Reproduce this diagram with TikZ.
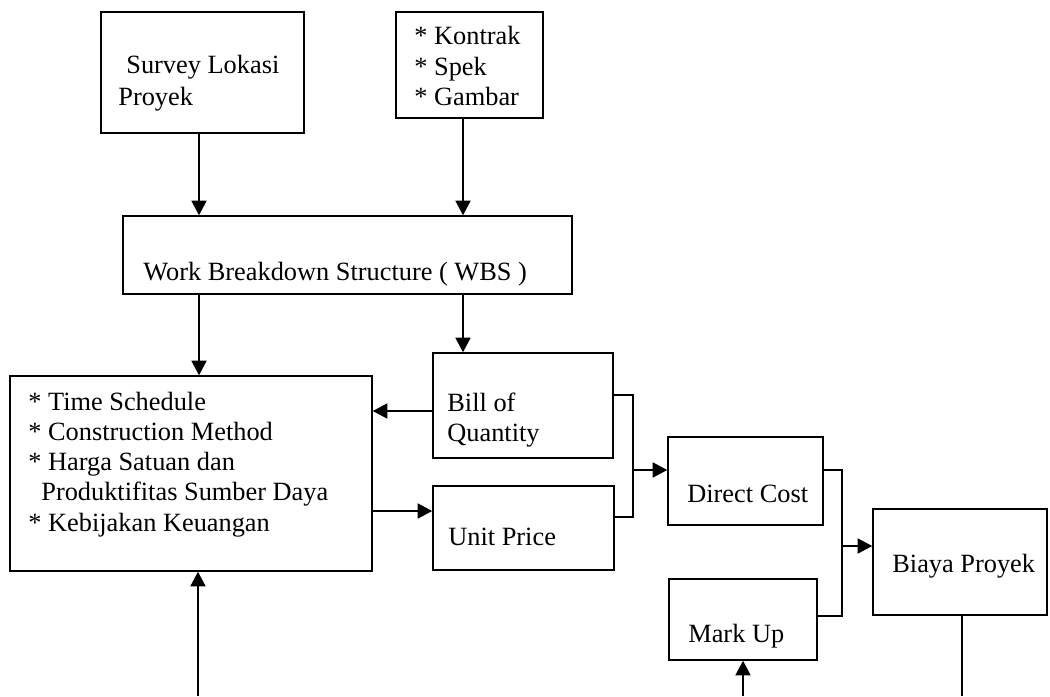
\documentclass[tikz,border=0pt]{standalone}
\usepackage{fontspec}
\setmainfont{Liberation Serif}
\usetikzlibrary{arrows.meta,calc}

\begin{document}
\begin{tikzpicture}[x=0.02cm,y=-0.02cm,
  box/.style={rectangle,draw=black,line width=0.9pt,inner sep=0pt},
  txt/.style={anchor=base west,inner sep=0pt,font=\fontsize{15pt}{17pt}\selectfont},
  arr/.style={-{Triangle[length=0.29cm,width=0.3cm]},line width=0.9pt},
  wire/.style={-,line width=0.9pt}]
\fill[white] (0,0) rectangle (1050,696);
\useasboundingbox (0,0) rectangle (1050,696);
% Input boxes
\node[box,minimum width=4.06cm,minimum height=2.42cm] (survey) at (202.5,72.5) {};
\node[box,minimum width=2.94cm,minimum height=2.12cm] (docs) at (469.5,65) {};
\node[box,minimum width=8.98cm,minimum height=1.56cm] (wbs) at (347.5,255) {};
% Estimate boxes
\node[box,minimum width=7.24cm,minimum height=3.9cm] (plan) at (191,473.5) {};
\node[box,minimum width=3.6cm,minimum height=2.1cm] (boq) at (523,405.5) {};
\node[box,minimum width=3.62cm,minimum height=1.68cm] (unit) at (523.5,528) {};
\node[box,minimum width=3.1cm,minimum height=1.76cm] (direct) at (745.5,481) {};
\node[box,minimum width=2.96cm,minimum height=1.62cm] (markup) at (743,619.5) {};
\node[box,minimum width=3.48cm,minimum height=2.12cm] (biaya) at (960,562) {};
% Texts
\node[txt] (survey-1) at (126,73) {Survey Lokasi};
\node[txt] (survey-2) at (118,105) {Proyek};
\foreach \ln [count=\i from 0] in {Kontrak,Spek,Gambar}
  \node[txt] (docs-\i) at (414,45+30.5*\i) {* \ln};
\node[txt] (wbs-1) at (143,280) {Work Breakdown Structure ( WBS )};
\foreach \ln [count=\i from 0] in {Time Schedule,Construction Method,Harga Satuan dan}
  \node[txt] (plan-\i) at (28,410+30*\i) {* \ln};
\node[txt] (plan-3) at (41,500) {Produktifitas Sumber Daya};
\node[txt] (plan-4) at (28,531) {* Kebijakan Keuangan};
\node[txt] (boq-1) at (447,411) {Bill of};
\node[txt] (boq-2) at (447,441) {Quantity};
\node[txt] (unit-1) at (448,545) {Unit Price};
\node[txt] (direct-1) at (687,502) {Direct Cost};
\node[txt] (markup-1) at (688,642) {Mark Up};
\node[txt] (biaya-1) at (892,572) {Biaya Proyek};
% Connectors
\coordinate (colA) at (199,0);
\coordinate (colB) at (463,0);
\draw[arr] (survey.south -| colA) -- (wbs.north -| colA);
\draw[arr] (docs.south -| colB) -- (wbs.north -| colB);
\draw[arr] (wbs.south -| colA) -- (plan.north -| colA);
\draw[arr] (wbs.south -| colB) -- (boq.north -| colB);
\draw[arr] ([yshift=-0.11cm]boq.west) -- ([yshift=-0.11cm]boq.west -| plan.east);
\draw[arr] ([yshift=0.34cm]unit.west -| plan.east) -- ([yshift=0.34cm]unit.west);
% Brackets
\coordinate (j1) at (633,470);
\coordinate (j2) at (842,546);
\draw[wire] ([yshift=0.21cm]boq.east) -| (j1) |- ([yshift=0.22cm]unit.east);
\draw[arr] (j1) -- (j1 -| direct.west);
\draw[wire] ([yshift=0.22cm]direct.east) -| (j2) |- ([yshift=0.07cm]markup.east);
\draw[arr] (j2) -- (j2 -| biaya.west);
% Bottom lines
\coordinate (bot1) at (198,696);
\coordinate (bot2) at (743,696);
\coordinate (bot3) at (962,696);
\draw[arr] (bot1) -- (plan.south -| bot1);
\draw[arr] (bot2) -- (markup.south -| bot2);
\draw[wire] (biaya.south -| bot3) -- (bot3);
\end{tikzpicture}
\end{document}
